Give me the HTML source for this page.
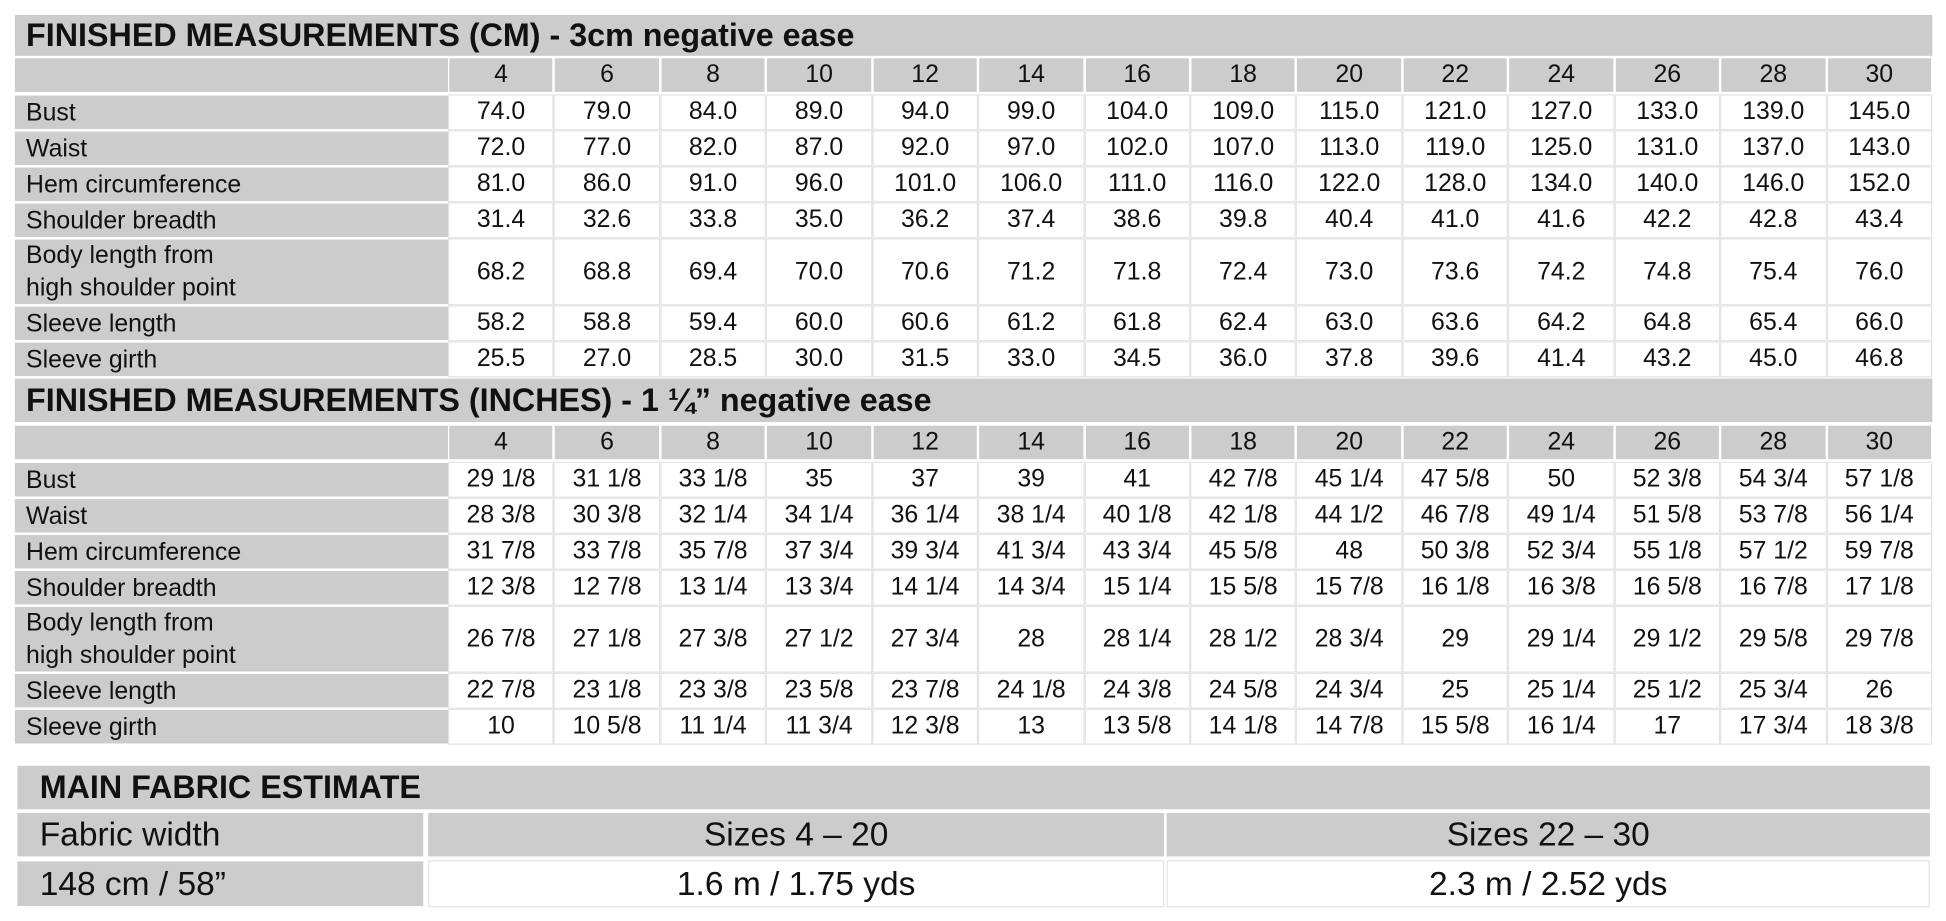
<!DOCTYPE html>
<html><head><meta charset="utf-8"><style>
html,body{margin:0;padding:0;background:#fff;}
#wrap{position:relative;width:1946px;height:921px;overflow:hidden;background:#fff;}
#stage{position:absolute;left:0;top:0;width:1568px;height:742px;transform:scale(1.24107,1.2412);transform-origin:0 0;font-family:"Liberation Sans",sans-serif;color:#111;}
.c{position:absolute;box-sizing:border-box;display:flex;align-items:center;justify-content:center;white-space:nowrap;}
</style></head><body>
<div id="wrap"><div id="stage"></div></div>
<script>
const sizes=["4","6","8","10","12","14","16","18","20","22","24","26","28","30"];
const rowLabels=["Bust","Waist","Hem circumference","Shoulder breadth","Body length from<br>high shoulder point","Sleeve length","Sleeve girth"];
const cmBust=["74.0","79.0","84.0","89.0","94.0","99.0","104.0","109.0","115.0","121.0","127.0","133.0","139.0","145.0"];
const cmWaist=["72.0","77.0","82.0","87.0","92.0","97.0","102.0","107.0","113.0","119.0","125.0","131.0","137.0","143.0"];
const cmHem=["81.0","86.0","91.0","96.0","101.0","106.0","111.0","116.0","122.0","128.0","134.0","140.0","146.0","152.0"];
const cmShoulder=["31.4","32.6","33.8","35.0","36.2","37.4","38.6","39.8","40.4","41.0","41.6","42.2","42.8","43.4"];
const cmBody=["68.2","68.8","69.4","70.0","70.6","71.2","71.8","72.4","73.0","73.6","74.2","74.8","75.4","76.0"];
const cmSleeve=["58.2","58.8","59.4","60.0","60.6","61.2","61.8","62.4","63.0","63.6","64.2","64.8","65.4","66.0"];
const cmGirth=["25.5","27.0","28.5","30.0","31.5","33.0","34.5","36.0","37.8","39.6","41.4","43.2","45.0","46.8"];
const inBust=["29 1/8","31 1/8","33 1/8","35","37","39","41","42 7/8","45 1/4","47 5/8","50","52 3/8","54 3/4","57 1/8"];
const inWaist=["28 3/8","30 3/8","32 1/4","34 1/4","36 1/4","38 1/4","40 1/8","42 1/8","44 1/2","46 7/8","49 1/4","51 5/8","53 7/8","56 1/4"];
const inHem=["31 7/8","33 7/8","35 7/8","37 3/4","39 3/4","41 3/4","43 3/4","45 5/8","48","50 3/8","52 3/4","55 1/8","57 1/2","59 7/8"];
const inShoulder=["12 3/8","12 7/8","13 1/4","13 3/4","14 1/4","14 3/4","15 1/4","15 5/8","15 7/8","16 1/8","16 3/8","16 5/8","16 7/8","17 1/8"];
const inBody=["26 7/8","27 1/8","27 3/8","27 1/2","27 3/4","28","28 1/4","28 1/2","28 3/4","29","29 1/4","29 1/2","29 5/8","29 7/8"];
const inSleeve=["22 7/8","23 1/8","23 3/8","23 5/8","23 7/8","24 1/8","24 3/8","24 5/8","24 3/4","25","25 1/4","25 1/2","25 3/4","26"];
const inGirth=["10","10 5/8","11 1/4","11 3/4","12 3/8","13","13 5/8","14 1/8","14 7/8","15 5/8","16 1/4","17","17 3/4","18 3/8"];
const fabricWidth="148 cm / 58\u201d";
const fabricGroups=["Sizes 4 \u2013 20","Sizes 22 \u2013 30"];
const fabricAmounts=["1.6 m / 1.75 yds","2.3 m / 2.52 yds"];

const st=document.getElementById('stage');
function cell(x,y,w,h,txt,bg,fs,opts){
  const d=document.createElement('div');d.className='c';
  d.style.left=x+'px';d.style.top=y+'px';d.style.width=w+'px';d.style.height=h+'px';
  d.style.background=bg;d.style.fontSize=fs+'px';
  if(opts&&opts.left){d.style.justifyContent='flex-start';d.style.paddingLeft=opts.left+'px';}
  if(opts&&opts.bold){d.style.fontWeight='bold';}
  if(opts&&opts.border){d.style.border='1px solid #e4e4e4';}
  if(opts&&opts.lh){d.style.lineHeight=opts.lh;}
  d.innerHTML=txt;st.appendChild(d);return d;
}
const L=12,R=1557,LC=361,CW=(R-LC)/14;
function section(title,top,data,name){
  let t=cell(L,top,R-L,top===12?33:35,title,'#cccccc',26,{left:9,bold:true});
  
  
  const hy=top+(top===12?35:38);
  let h=cell(L,hy,LC-L,27,'','#cccccc',20);
  
  
  sizes.forEach((s,i)=>{
    let c=cell(LC+1+i*CW,hy,CW-2,27,s,'#cccccc',20);
    
    
  });
  const hs=[27,27,27,27,52,27,27];
  let y=hy+30;
  data.forEach((row,r)=>{
    let lab=cell(L,y,LC-L,hs[r],rowLabels[r],'#cccccc',20,{left:9,lh:'26px'});
    
    
    row.forEach((v,i)=>{
      let c=cell(LC+i*CW,y-1,CW,hs[r]+2,v,'#fff',20,{border:true});
      
      
    });
    y+=hs[r]+2;
  });
}
section('FINISHED MEASUREMENTS (CM) - 3cm negative ease',12,[cmBust,cmWaist,cmHem,cmShoulder,cmBody,cmSleeve,cmGirth],'cm');
section('FINISHED MEASUREMENTS (INCHES) - 1 \u00bc\u201d negative ease',305,[inBust,inWaist,inHem,inShoulder,inBody,inSleeve,inGirth],'inches');

let ft=cell(L+2,617,R-L-4,35,'MAIN FABRIC ESTIMATE','#cccccc',26,{left:18,bold:true});


let fl=cell(L+2,655,343-L-4,35,'Fabric width','#cccccc',27,{left:18});


let fv=cell(L+2,694,343-L-4,36,fabricWidth,'#cccccc',27,{left:18});


const fx=[345,940],fw=[593,615];
fabricGroups.forEach((g,i)=>{
  let a=cell(fx[i],655,fw[i],35,g,'#cccccc',27);
  
  
  let b=cell(fx[i],693,fw[i],38,fabricAmounts[i],'#fff',27,{border:true});
  
  
});
</script>
</body></html>
